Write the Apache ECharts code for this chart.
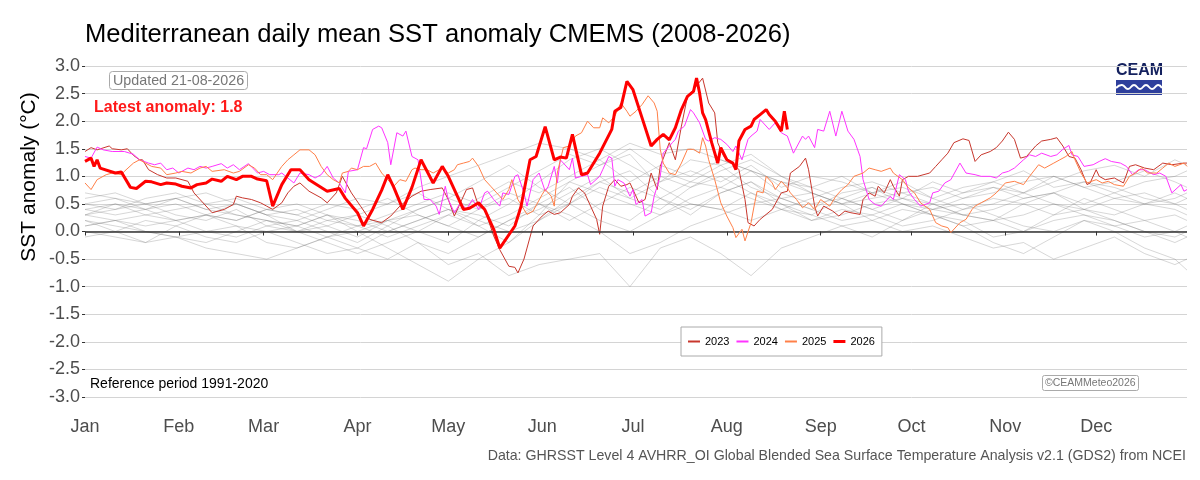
<!DOCTYPE html>
<html>
<head>
<meta charset="utf-8">
<script src="https://cdn.jsdelivr.net/npm/echarts@6/dist/echarts.min.js"></script>
<style>
html,body{margin:0;padding:0;background:#fff;}
#chart{width:1200px;height:480px;}
</style>
</head>
<body>
<div id="chart"></div>
<script>
// ---------------- DATA ----------------
const monthDays = [1, 32, 60, 91, 121, 152, 182, 213, 244, 274, 305, 335];
const monthNames = ['Jan','Feb','Mar','Apr','May','Jun','Jul','Aug','Sep','Oct','Nov','Dec'];
const yTicks = [-3,-2.5,-2,-1.5,-1,-0.5,0,0.5,1,1.5,2,2.5,3];

// grey years (2008-2022), sampled every 10 days
const greyDays = [1,11,21,31,41,51,61,71,81,91,101,111,121,131,141,151,161,171,181,191,201,211,221,231,241,251,261,271,281,291,301,311,321,331,341,351,361,365];
const grey2008 = [0.2,0.1,0.0,-0.1,0.0,0.1,-0.2,-0.3,-0.1,0.0,0.2,0.3,0.1,0.4,0.6,0.3,0.5,0.2,0.0,0.3,0.5,0.4,0.2,0.4,0.3,0.1,0.2,0.4,0.3,0.1,0.2,0.0,0.3,0.4,0.2,0.0,-0.1,0.0];
const grey2009 = [0.1,0.2,0.3,0.2,0.0,-0.1,0.1,0.2,0.0,-0.2,0.1,0.4,0.6,0.9,1.2,0.8,0.5,0.9,1.1,0.6,0.3,0.7,0.9,0.5,0.2,0.3,0.5,0.6,0.4,0.5,0.3,0.1,0.0,0.2,0.1,-0.1,0.0,0.1];
const grey2010 = [0.4,0.5,0.3,0.4,0.5,0.3,0.2,0.0,0.1,0.3,0.1,-0.2,-0.4,-0.1,0.2,0.4,0.7,1.0,0.6,0.4,0.8,1.0,0.7,0.4,0.2,0.4,0.3,0.1,0.2,0.4,0.6,0.5,0.7,0.4,0.3,0.5,0.4,0.3];
const grey2011 = [0.3,0.2,0.1,0.2,0.3,0.1,0.0,-0.2,-0.4,-0.3,0.0,0.2,0.4,0.3,0.1,0.5,0.8,0.4,0.2,0.6,0.9,0.8,1.1,0.7,0.5,0.6,0.8,0.5,0.3,0.2,-0.1,0.0,0.2,0.3,0.1,0.2,0.0,-0.1];
const grey2012 = [0.0,-0.1,-0.2,-0.1,-0.3,-0.4,-0.5,-0.3,-0.1,0.1,0.2,0.0,-0.2,0.2,0.5,0.9,1.3,1.5,1.2,0.9,1.3,1.2,1.4,1.0,0.7,0.5,0.7,0.9,0.6,0.4,0.5,0.7,0.5,0.3,0.2,0.0,-0.2,-0.1];
const grey2013 = [-0.1,0.0,0.2,0.1,-0.1,-0.2,0.0,0.1,-0.1,-0.3,-0.5,-0.2,-0.6,-0.4,-0.8,-0.6,-0.5,-0.4,-1.0,-0.3,-0.1,-0.4,-0.8,-0.3,-0.1,0.1,-0.1,0.2,0.4,0.3,0.2,0.5,0.3,0.6,0.4,0.2,0.3,0.2];
const grey2014 = [0.5,0.6,0.4,0.5,0.3,0.2,0.4,0.3,0.5,0.4,0.6,0.3,0.1,-0.1,0.2,0.5,0.3,0.0,-0.4,-0.2,0.1,0.3,0.5,0.6,0.4,0.7,0.8,0.6,0.9,0.7,0.8,0.6,0.7,0.9,0.8,0.6,0.5,0.4];
const grey2015 = [0.3,0.4,0.5,0.3,0.2,0.4,0.1,0.0,0.2,0.1,0.3,0.5,0.7,0.5,0.8,1.1,1.4,1.2,1.5,1.1,0.9,1.2,0.8,0.6,0.7,0.5,0.6,0.7,0.8,0.6,0.7,0.9,1.0,0.8,0.6,0.7,0.5,0.6];
const grey2016 = [0.6,0.7,0.5,0.6,0.4,0.3,0.2,0.1,0.3,0.2,0.0,0.2,0.4,0.1,0.3,0.6,0.9,0.7,0.5,0.3,0.6,0.8,0.6,0.4,0.6,0.8,0.9,0.7,0.5,0.3,0.2,0.3,0.5,0.4,0.6,0.5,0.7,0.6];
const grey2017 = [0.2,0.0,-0.2,0.1,0.3,0.2,0.4,0.5,0.3,0.1,-0.1,0.1,0.3,0.6,0.9,0.7,1.0,1.3,0.9,1.2,1.0,1.3,1.1,0.9,0.7,0.5,0.2,0.0,0.1,-0.1,-0.3,-0.2,-0.5,-0.3,-0.1,-0.4,-0.6,-0.5];
const grey2018 = [0.4,0.3,0.4,0.2,0.3,0.5,0.3,0.2,0.4,0.6,0.5,0.7,0.4,0.2,0.0,0.2,0.5,0.8,0.6,0.9,1.1,0.9,1.2,0.8,1.0,0.9,0.7,0.8,0.6,0.8,0.9,1.1,0.8,0.9,0.7,0.5,0.6,0.7];
const grey2019 = [0.1,0.2,0.0,-0.1,-0.2,0.0,0.2,0.1,0.3,0.0,-0.3,-0.6,-0.9,-0.5,-0.2,0.3,0.9,1.2,1.4,0.8,0.5,0.4,0.7,0.5,0.3,0.6,0.4,0.2,0.5,0.7,0.9,0.7,1.0,0.8,0.9,1.1,0.9,0.8];
const grey2020 = [0.5,0.4,0.6,0.7,0.5,0.6,0.4,0.3,0.1,-0.1,0.2,0.4,0.6,0.4,0.7,0.5,0.2,0.5,0.8,0.6,0.4,0.7,0.9,0.6,0.4,0.2,0.3,0.5,0.3,0.1,-0.2,-0.4,-0.1,0.2,0.0,-0.3,-0.5,-0.7];
const grey2021 = [0.3,0.5,0.4,0.6,0.7,0.5,0.3,0.0,-0.2,-0.4,-0.2,0.0,0.3,0.1,-0.2,0.2,0.6,0.9,0.7,1.0,0.8,1.1,1.3,1.0,0.8,0.6,0.4,0.6,0.5,0.3,0.4,0.6,0.7,0.5,0.7,0.9,1.0,1.1];
const grey2022 = [0.7,0.6,0.5,0.6,0.4,0.5,0.3,0.4,0.2,0.3,0.5,0.8,1.0,1.2,1.4,1.6,1.5,1.3,1.6,1.4,1.5,1.3,1.1,0.9,0.8,1.0,0.7,0.5,0.4,0.6,0.8,0.7,0.9,1.1,1.2,1.0,1.3,1.2];
const greyYears = [grey2008,grey2009,grey2010,grey2011,grey2012,grey2013,grey2014,grey2015,grey2016,grey2017,grey2018,grey2019,grey2020,grey2021,grey2022];

// highlighted years
const days2023 = [1,3,5,9,10,13,15,17,19,20,22,25,28,31,35,37,40,43,47,50,51,53,56,59,61,63,66,68,70,72,75,79,81,84,86,89,92,95,99,102,105,109,112,115,119,121,123,125,127,129,131,133,136,138,141,143,144,146,147,149,152,154,156,158,161,162,164,166,168,170,171,172,174,176,178,180,181,184,186,188,190,191,194,196,198,200,202,205,207,209,210,212,215,217,219,220,222,224,228,231,233,234,237,239,240,242,243,245,248,250,252,254,257,258,260,262,263,265,267,268,270,271,273,276,280,282,284,286,288,291,293,295,297,300,302,304,306,308,310,312,315,317,320,322,324,326,328,330,332,333,335,336,338,341,344,346,348,351,354,357,360,364,365];
const sst2023 = [1.45,1.52,1.48,1.55,1.50,1.48,1.50,1.38,1.30,1.30,1.12,1.03,0.97,0.97,0.91,0.70,0.52,0.34,0.40,0.49,0.64,0.61,0.58,0.52,0.46,0.40,0.52,0.70,0.82,0.88,0.73,0.61,0.52,0.70,1.00,0.70,0.46,0.22,0.16,0.28,0.46,0.64,0.73,0.76,0.79,0.58,0.28,0.52,0.76,0.79,0.46,0.40,-0.08,-0.33,-0.63,-0.65,-0.75,-0.50,-0.30,0.10,0.28,0.37,0.31,0.34,0.49,0.64,0.79,0.70,0.46,0.22,-0.05,0.46,0.82,0.94,0.82,0.85,0.88,0.52,0.58,1.06,0.76,1.18,1.61,1.30,1.91,2.45,2.57,2.78,2.33,2.15,1.61,1.36,1.24,1.12,0.58,0.16,0.10,0.22,0.40,0.70,0.73,1.06,1.18,1.33,1.12,0.46,0.28,0.46,0.37,0.28,0.37,0.34,0.31,0.58,0.70,0.64,0.82,0.70,0.94,0.82,0.64,0.94,1.00,1.00,1.06,1.18,1.30,1.42,1.61,1.68,1.65,1.27,1.39,1.45,1.52,1.64,1.80,1.67,1.33,1.36,1.55,1.64,1.67,1.70,1.55,1.36,1.33,1.12,0.85,0.88,1.12,1.00,0.94,0.97,0.88,1.18,1.21,1.15,1.12,1.24,1.21,1.24,1.24];

const days2024 = [1,3,5,7,10,14,17,19,22,24,26,28,30,32,35,37,39,41,43,46,48,50,52,55,58,60,62,65,66,68,70,72,75,77,79,81,83,85,87,88,91,93,94,96,98,99,101,102,104,106,107,109,111,113,115,117,118,120,121,123,125,127,129,131,133,134,136,138,139,141,143,144,146,147,149,151,153,154,156,157,158,161,162,163,165,167,168,171,172,174,175,176,177,179,181,182,183,185,186,188,189,191,192,195,196,197,199,201,202,204,206,207,209,211,213,215,216,218,220,221,223,224,227,229,231,233,235,238,239,240,242,243,245,247,249,251,253,255,257,258,260,262,264,267,268,270,272,273,275,277,280,281,283,285,287,290,292,295,297,300,302,304,306,308,311,313,315,317,320,322,324,326,327,329,331,334,336,338,340,343,345,347,349,351,354,356,358,360,363,364,365];
const sst2024 = [1.36,1.33,1.53,1.48,1.45,1.45,1.40,1.30,1.24,1.21,1.24,1.12,1.15,1.06,1.15,1.12,1.18,1.15,1.18,1.23,1.15,1.21,1.12,1.23,1.06,1.09,1.03,1.03,1.06,0.97,0.88,1.06,1.03,0.97,1.03,1.18,0.97,0.88,0.70,1.09,1.12,1.52,1.50,1.85,1.91,1.88,1.61,1.21,1.79,1.73,1.82,1.36,1.30,0.58,0.58,0.46,0.31,0.82,0.58,0.34,0.52,0.40,0.58,0.40,0.70,0.73,0.58,0.46,0.70,0.67,1.00,1.03,0.70,0.46,0.94,1.06,0.73,0.82,1.18,0.88,1.30,1.12,1.33,0.97,1.00,1.03,0.85,1.00,1.12,1.36,1.33,0.82,0.94,0.88,0.64,0.76,0.49,0.58,0.28,0.34,0.64,1.00,1.42,1.61,1.67,1.82,1.91,2.21,2.15,1.97,1.67,1.64,1.70,1.67,1.58,1.45,1.55,1.30,1.67,1.73,1.82,2.03,1.85,1.97,1.79,1.73,1.42,1.73,1.67,1.73,1.52,1.85,1.82,2.18,1.73,2.18,1.82,1.67,1.36,0.94,0.58,0.49,0.46,0.64,0.58,1.03,0.94,0.73,0.58,0.46,0.52,0.70,0.73,0.88,0.94,1.24,1.06,1.03,1.00,1.00,0.97,1.06,1.09,1.15,1.30,1.39,1.36,1.42,1.36,1.39,1.49,1.56,1.39,1.36,1.18,1.21,1.27,1.32,1.27,1.24,1.18,1.03,1.12,1.12,1.03,1.06,1.00,0.70,0.85,0.73,0.76];

const days2025 = [1,3,5,8,10,13,14,17,19,21,23,26,28,31,33,36,39,41,43,47,50,52,55,57,59,61,63,66,68,70,72,75,77,79,81,83,85,86,88,89,91,93,95,97,99,101,103,105,107,109,110,112,114,116,119,121,123,124,126,128,129,131,133,135,137,139,141,142,144,146,147,149,152,153,155,156,157,159,161,163,165,167,169,171,172,174,176,178,180,181,183,185,187,189,190,191,192,194,196,198,200,202,204,205,206,207,209,211,213,215,216,218,219,221,222,223,225,226,228,229,231,233,234,236,238,240,242,244,247,249,251,253,255,258,260,262,264,267,268,271,273,275,277,280,282,284,286,287,290,292,294,295,297,300,302,305,308,311,313,316,318,321,323,325,327,328,330,332,335,337,339,341,344,346,348,350,352,355,357,359,361,364,365];
const sst2025 = [0.88,0.76,0.94,1.03,1.06,1.03,1.09,1.24,1.30,1.24,1.18,1.15,1.03,1.06,1.09,1.06,1.15,1.18,1.09,1.12,1.06,1.09,1.21,1.15,1.03,1.03,0.94,1.18,1.30,1.39,1.48,1.48,1.39,1.18,1.03,0.94,0.88,1.06,1.09,1.15,1.12,1.18,1.18,1.24,1.06,0.94,0.82,0.94,0.91,1.12,1.15,1.12,1.12,1.06,1.15,1.06,1.12,1.21,1.24,1.27,1.33,1.18,0.94,0.82,0.70,0.58,0.76,0.94,0.58,0.40,0.31,0.37,0.67,0.76,0.64,0.46,1.06,1.52,1.55,1.73,1.79,2.00,1.88,1.88,2.06,1.97,2.09,2.33,2.18,2.09,2.18,2.30,2.46,2.33,2.18,1.49,1.24,1.06,1.03,1.24,1.49,1.49,1.42,1.70,1.55,1.30,0.94,0.52,0.28,0.07,-0.11,0.04,-0.17,0.16,0.46,0.73,0.70,1.00,0.88,0.76,0.91,0.79,0.70,0.58,0.43,0.52,0.40,0.58,0.46,0.64,0.76,0.85,1.00,1.06,1.15,1.12,1.09,1.15,1.06,0.94,0.79,0.70,0.52,0.40,0.16,0.10,0.07,-0.02,0.16,0.22,0.40,0.46,0.52,0.61,0.70,0.88,0.91,0.85,1.00,1.21,1.15,1.24,1.30,1.36,1.45,1.30,1.06,0.88,0.94,0.88,0.91,0.85,0.82,1.00,1.06,1.15,1.06,1.06,1.15,1.24,1.18,1.24,1.18];

const days2026 = [1,3,4,5,6,11,13,16,18,21,23,26,28,31,33,36,38,41,43,46,48,51,53,56,58,61,63,66,69,72,75,81,85,87,91,93,96,99,101,103,106,109,112,116,119,121,126,128,131,133,136,138,143,145,148,150,153,156,158,160,162,165,167,171,175,176,178,180,182,185,188,190,192,194,196,198,200,202,203,204,205,206,208,210,211,213,215,216,217,219,221,222,224,226,227,229,230,231,232,233];
const sst2026 = [1.27,1.33,1.18,1.30,1.15,1.06,1.08,0.80,0.78,0.91,0.90,0.85,0.88,0.86,0.82,0.79,0.85,0.88,0.95,0.91,1.00,0.94,1.00,1.00,0.95,0.92,0.46,0.85,1.12,1.12,0.94,0.73,0.78,0.60,0.34,0.10,0.40,0.75,1.03,0.80,0.40,0.80,1.30,0.88,1.18,1.00,0.40,0.42,0.52,0.40,0.04,-0.30,0.10,0.45,1.30,1.36,1.90,1.30,1.35,1.33,1.76,1.03,1.06,1.42,1.85,2.18,2.25,2.72,2.57,2.06,1.55,1.67,1.76,1.66,1.88,2.21,2.45,2.54,2.78,2.51,2.15,2.03,1.61,1.24,1.52,1.30,1.24,1.12,1.64,1.85,1.91,2.03,2.12,2.21,2.12,2.00,1.91,1.82,2.18,1.85];

// ---------------- CHART ----------------
const FONT = 'Liberation Sans, Arial, sans-serif';
const pairs = (d, v) => d.map((x, i) => [x, v[i]]);

const series = [];
greyYears.forEach((vals, i) => {
  series.push({
    name: 'grey' + (2008 + i), type: 'line', data: pairs(greyDays, vals),
    symbol: 'none', silent: true, z: 1,
    lineStyle: { color: 'rgba(110,110,110,0.35)', width: 0.8 }
  });
});
series.push({
  name: 'zero', type: 'line', data: [], silent: true, z: 2,
  markLine: { silent: true, symbol: 'none', label: { show: false },
    lineStyle: { color: '#333', width: 1.6, type: 'solid' }, data: [{ yAxis: 0 }] }
});
const colours = { '2023': '#c8372d', '2024': '#ff33ff', '2025': '#ff8048', '2026': '#ff0000' };
series.push({ name: '2023', type: 'line', data: pairs(days2023, sst2023), symbol: 'none', z: 3,
  lineStyle: { color: colours['2023'], width: 1 }, itemStyle: { color: colours['2023'] } });
series.push({ name: '2024', type: 'line', data: pairs(days2024, sst2024), symbol: 'none', z: 4,
  lineStyle: { color: colours['2024'], width: 1 }, itemStyle: { color: colours['2024'] } });
series.push({ name: '2025', type: 'line', data: pairs(days2025, sst2025), symbol: 'none', z: 5,
  lineStyle: { color: colours['2025'], width: 1 }, itemStyle: { color: colours['2025'] } });
series.push({ name: '2026', type: 'line', data: pairs(days2026, sst2026), symbol: 'none', z: 6,
  lineStyle: { color: colours['2026'], width: 3 }, itemStyle: { color: colours['2026'] } });

// legend keys: horizontal strokes (box kept 12x10 via invisible move points)
const thinKey = 'path://M0,0 M12,10 M0,4 L12,4 L12,6 L0,6 Z';
const thickKey = 'path://M0,0 M12,10 M0,3.5 L12,3.5 L12,6.5 L0,6.5 Z';

const chart = echarts.init(document.getElementById('chart'), null, { renderer: 'canvas' });
chart.setOption({
  animation: false,
  backgroundColor: '#ffffff',
  textStyle: { fontFamily: FONT },
  title: [
    { text: 'Mediterranean daily mean SST anomaly CMEMS (2008-2026)', left: 80, top: 17,
      textStyle: { fontSize: 25.6, fontWeight: 'normal', color: '#000', fontFamily: FONT } },
    { text: 'Updated 21-08-2026', left: 109, top: 71, padding: [3, 4, 2, 4],
      borderColor: '#aaa', borderWidth: 1, borderRadius: 3, backgroundColor: '#fff',
      textStyle: { fontSize: 14.3, fontWeight: 'normal', color: '#777', fontFamily: FONT } },
    { text: 'Latest anomaly: 1.8', left: 94, top: 100, padding: 0,
      textStyle: { fontSize: 16, fontWeight: 'bold', color: '#ff1a1a', fontFamily: FONT } },
    { text: 'Reference period 1991-2020', left: 90, top: 377, padding: 0,
      textStyle: { fontSize: 14, fontWeight: 'normal', color: '#000', fontFamily: FONT } },
    { text: '©CEAMMeteo2026', left: 1042, top: 375, padding: [3, 3, 2, 3],
      borderColor: '#aaa', borderWidth: 1, borderRadius: 2, backgroundColor: '#fff',
      textStyle: { fontSize: 10.5, fontWeight: 'normal', color: '#777', fontFamily: FONT } },
    { text: 'Data: GHRSST Level 4 AVHRR_OI Global Blended Sea Surface Temperature Analysis v2.1 (GDS2) from NCEI',
      right: 14, top: 449, padding: 0,
      textStyle: { fontSize: 14.2, fontWeight: 'normal', color: '#555', fontFamily: FONT } }
  ],
  legend: {
    data: [
      { name: '2023', icon: thinKey, itemStyle: { color: colours['2023'], opacity: 1 } },
      { name: '2024', icon: thinKey, itemStyle: { color: colours['2024'], opacity: 1 } },
      { name: '2025', icon: thinKey, itemStyle: { color: colours['2025'], opacity: 1 } },
      { name: '2026', icon: thickKey, itemStyle: { color: colours['2026'], opacity: 1 } }
    ],
    left: 681, top: 327, orient: 'horizontal',
    padding: [9, 7, 9, 7], itemGap: 7, itemWidth: 12, itemHeight: 10,
    borderColor: '#aaa', borderWidth: 1, backgroundColor: '#fff',
    textStyle: { fontSize: 11, color: '#000', fontFamily: FONT },
    selectedMode: false
  },
  grid: { left: 85, right: 13, top: 66, bottom: 83, containLabel: false },
  xAxis: {
    type: 'value', min: 1, max: 365, offset: 15,
    axisLine: { show: false },
    axisTick: { show: true, customValues: monthDays, length: 4, lineStyle: { color: '#333' } },
    axisLabel: { customValues: monthDays, margin: 6, fontSize: 18, color: '#4d4d4d', fontFamily: FONT,
      formatter: v => monthNames[monthDays.indexOf(v)] || '' },
    splitLine: { show: false }
  },
  yAxis: {
    type: 'value', min: -3, max: 3, interval: 0.5,
    axisLine: { show: false },
    axisTick: { show: true, length: 3, lineStyle: { color: '#333' } },
    axisLabel: { fontSize: 18, color: '#4d4d4d', margin: 5, fontFamily: FONT,
      formatter: v => v.toFixed(1) },
    splitLine: { show: true, lineStyle: { color: '#d4d4d4', width: 1 } }
  },
  graphic: [
    { type: 'text', x: 29, y: 177, rotation: Math.PI / 2,
      style: { text: 'SST anomaly (°C)', fill: '#000', font: '21px ' + FONT, align: 'center', verticalAlign: 'middle' } },
    { type: 'text', left: 1116, top: 63, style: { text: 'CEAM', fill: '#14215e', font: 'bold 16px ' + FONT } },
    { type: 'rect', shape: { x: 1116, y: 80, width: 46, height: 15 }, style: { fill: '#2e3f9c' } },
    { type: 'polyline', shape: { smooth: 0.5, points: [[1116,88],[1122,85],[1128,89],[1134,85],[1140,89],[1146,85],[1152,89],[1158,85],[1162,88]] },
      style: { stroke: '#ffffff', lineWidth: 2, fill: null } }
  ],
  series: series
});
</script>
</body>
</html>
